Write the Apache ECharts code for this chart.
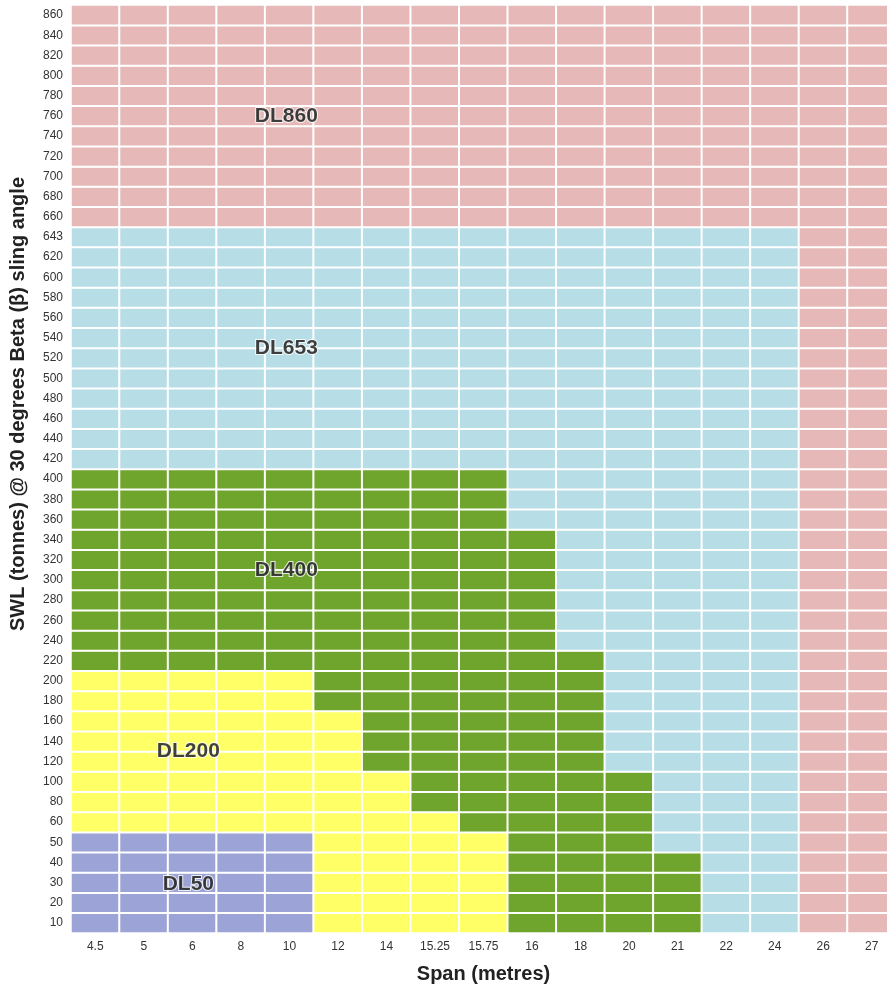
<!DOCTYPE html>
<html>
<head>
<meta charset="utf-8">
<script src="https://cdn.jsdelivr.net/npm/echarts@6/dist/echarts.min.js"></script>
<style>html,body{margin:0;padding:0;background:#fff;overflow:hidden}#c{width:887px;height:989px}</style>
</head>
<body>
<div id="c"></div>
<script>
// Span categories (x axis)
var spans = ['4.5','5','6','8','10','12','14','15.25','15.75','16','18','20','21','22','24','26','27'];
// SWL categories (y axis, bottom to top)
var swl = ['10','20','30','40','50','60','80','100','120','140','160','180','200','220','240','260','280','300','320','340','360','380','400','420','440','460','480','500','520','540','560','580','600','620','643','660','680','700','720','740','760','780','800','820','840','860'];
// Highest SWL covered by each lifter class for each span (0 = class not available at that span)
var dl50Top  = [50,50,50,50,50,0,0,0,0,0,0,0,0,0,0,0,0];
var dl200Top = [200,200,200,200,200,160,100,60,50,0,0,0,0,0,0,0,0];
var dl400Top = [400,400,400,400,400,400,400,400,400,340,220,100,40,0,0,0,0];
var dl653Top = [643,643,643,643,643,643,643,643,643,643,643,643,643,643,643,0,0];
var classNames = ['DL50','DL200','DL400','DL653','DL860'];
var classColors = ['#9ba3d7','#ffff66','#6fa52c','#b7dde7','#e6b8b8'];
// Class labels: [span, swl, text]
var labelPoints = [
  ['10','760','DL860'],
  ['10','540','DL653'],
  ['10','320','DL400'],
  ['6','140','DL200'],
  ['6','30','DL50']
];
var labelOffsets = [[-3,0],[-3,10],[-3,10],[-4,10],[-4,2]];

var cells = [];
for (var i = 0; i < spans.length; i++) {
  for (var j = 0; j < swl.length; j++) {
    var v = parseFloat(swl[j]);
    var c;
    if (v <= dl50Top[i]) c = 0;
    else if (v <= dl200Top[i]) c = 1;
    else if (v <= dl400Top[i]) c = 2;
    else if (v <= dl653Top[i]) c = 3;
    else c = 4;
    cells.push([i, j, c]);
  }
}

var tickFont = "'Liberation Sans Narrow','Liberation Sans',Arial,sans-serif";
var chart = echarts.init(document.getElementById('c'));
chart.setOption({
  backgroundColor: '#ffffff',
  animation: false,
  grid: {left: 71, width: 825, top: 5, bottom: 56, containLabel: false, outerBoundsMode: 'none'},
  xAxis: {
    type: 'category', data: spans,
    axisLine: {show: false}, axisTick: {show: false}, splitLine: {show: false},
    axisLabel: {margin: 8, fontSize: 12, color: '#333', fontFamily: tickFont},
    name: 'Span (metres)', nameLocation: 'middle', nameGap: 31,
    nameTextStyle: {fontSize: 20, fontWeight: 'bold', color: '#222', fontFamily: 'Liberation Sans, Arial, sans-serif'}
  },
  yAxis: {
    type: 'category', data: swl,
    axisLine: {show: false}, axisTick: {show: false}, splitLine: {show: false},
    axisLabel: {margin: 8, fontSize: 12, color: '#333', fontFamily: tickFont},
    name: 'SWL (tonnes) @ 30 degrees Beta (\u03B2) sling angle', nameLocation: 'middle', nameGap: 43,
    nameTextStyle: {fontSize: 20, fontWeight: 'bold', color: '#222', fontFamily: 'Liberation Sans, Arial, sans-serif', padding: [0,0,0,130]}
  },
  visualMap: {
    type: 'piecewise', show: false, dimension: 2,
    pieces: classNames.map(function (n, k) { return {value: k, color: classColors[k], label: n}; })
  },
  series: [
    {
      type: 'heatmap', data: cells,
      itemStyle: {borderColor: '#ffffff', borderWidth: 2},
      emphasis: {disabled: true}
    },
    {
      type: 'scatter', symbolSize: 0, z: 10,
      data: labelPoints.map(function (p, k) {
        return {value: p, label: {offset: labelOffsets[k]}};
      }),
      label: {
        show: true, position: 'inside',
        formatter: function (p) { return p.value[2]; },
        fontSize: 21, fontWeight: 'bold', color: '#111',
        fontFamily: 'Liberation Sans, Arial, sans-serif',
        textBorderColor: '#ffffff', textBorderWidth: 2
      }
    }
  ]
});
</script>
</body>
</html>
